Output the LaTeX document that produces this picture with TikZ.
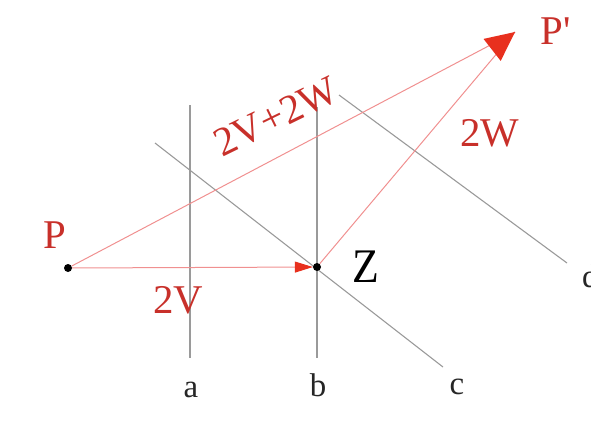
\documentclass[tikz,border=0pt]{standalone}
\usepackage{fontspec}
\setmainfont{Liberation Serif}
\usetikzlibrary{arrows.meta}
\definecolor{redlab}{HTML}{C8302A}
\definecolor{redline}{HTML}{F09090}
\definecolor{redhead}{HTML}{E8301E}
\definecolor{grayline}{HTML}{9A9A9A}
\begin{document}
\begin{tikzpicture}[x=1bp,y=-1bp,
  gline/.style={draw=grayline,line width=1.1bp},
  rline/.style={draw=redline,line width=1bp},
  dotnode/.style={circle,fill=black,inner sep=0pt,minimum size=8bp},
  biglab/.style={inner sep=0pt,font=\fontsize{41}{41}\selectfont},
  redlabel/.style={biglab,text=redlab},
  linelab/.style={inner sep=0pt,anchor=base,font=\fontsize{33}{33}\selectfont,text=black!85}]
\useasboundingbox (0,0) rectangle (591,428);
\clip (0,0) rectangle (591,428);
% gray lines
\coordinate (a1) at (190,105); \coordinate (a2) at (190,358);
\coordinate (b1) at (317,107); \coordinate (b2) at (317,358);
\coordinate (c1) at (155,143); \coordinate (c2) at (443,367);
\coordinate (d1) at (339,95);  \coordinate (d2) at (567,263);
\draw[gline] (a1) -- (a2);
\draw[gline] (b1) -- (b2);
\draw[gline] (c1) -- (c2);
\draw[gline] (d1) -- (d2);
\node[linelab] (la) at (191,397) {a};
\node[linelab] (lb) at (318,396) {b};
\node[linelab] (lc) at (457,394) {c};
\node[linelab,anchor=base west] (ld) at (582,287) {d};
% points
\node[dotnode] (P) at (68,268) {};
\node[dotnode] (Z) at (317,267) {};
\coordinate (Pp) at (515,32);
% vectors
\draw[rline,-{Triangle[length=18bp,width=11bp,color=redhead]}] (P) -- (Z);
\draw[rline] (P) -- (Pp);
\draw[rline] (Z) -- (Pp);
\fill[redhead] (Pp) -- ++(-31.5,6.9) -- ++(17.2,22) -- cycle;
% labels
\node[redlabel] (lP) at (55,235) {P};
\node[redlabel] (lPp) at (556,31) {P\textquotesingle};
\node[biglab,font=\fontsize{44}{44}\selectfont,yscale=1.1] (lZ) at (366,267) {Z};
\node[redlabel] (l2V) at (178,300) {2V};
\node[redlabel] (l2W) at (490,133) {2W};
\node[redlabel,rotate=26] (l2V2W) at (276,117) {2V+2W};
\end{tikzpicture}
\end{document}
